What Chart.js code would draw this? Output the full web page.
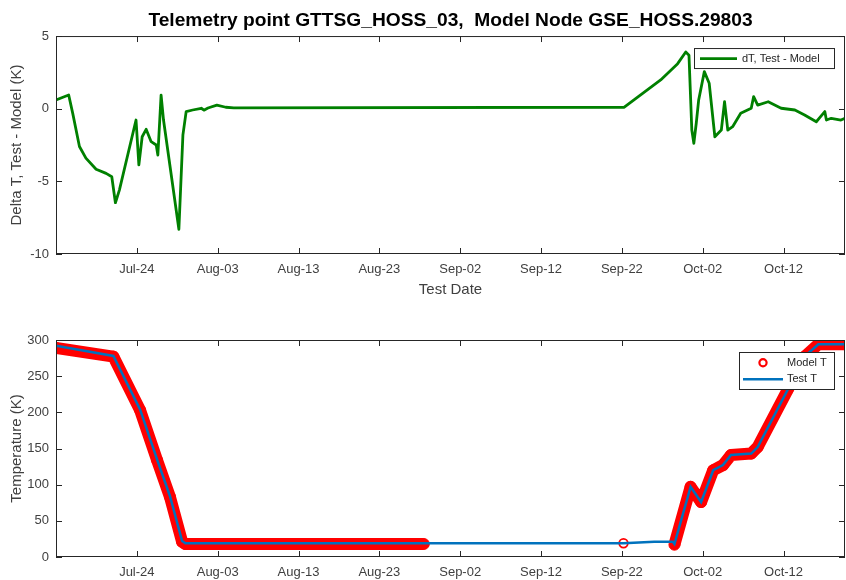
<!DOCTYPE html>
<html>
<head>
<meta charset="utf-8">
<script src="https://cdn.jsdelivr.net/npm/chart.js@4.4.1/dist/chart.umd.min.js"></script>
<style>
  html, body { margin: 0; padding: 0; background: #fff; }
  #wrap { position: relative; width: 846px; height: 580px; }
  #dtChart { position: absolute; left: 0; top: 0; }
  #tempChart { position: absolute; left: 0; top: 300px; }
</style>
</head>
<body>
<div id="wrap">
  <canvas id="dtChart" width="846" height="300"></canvas>
  <canvas id="tempChart" width="846" height="280"></canvas>
</div>
<script>
// x values are days counted from Jul-14
const tickDays = [10, 20, 30, 40, 50, 60, 70, 80, 90];
const tickLabels = ["Jul-24", "Aug-03", "Aug-13", "Aug-23", "Sep-02", "Sep-12", "Sep-22", "Oct-02", "Oct-12"];
const dayMin = 0;
const dayMax = 97.6;

// dT = test - model (K)
const dtDays = [0, 1.57, 2.07, 2.9, 3.7, 4.96, 6.2, 6.9, 7.35, 7.84, 9.9, 10.25, 10.66, 11.15, 11.77, 12.4, 12.6,
  13.0, 13.3, 15.2, 15.7, 16.1, 16.9, 17.97, 18.3, 18.8, 19.9, 21, 22, 70.3, 74.8, 76.9, 77.9, 78.3,
  78.65, 78.9, 79.2, 79.5, 80.2, 80.8, 81.5, 82.3, 82.7, 83.1, 83.7, 84.7, 86.0, 86.3, 86.8, 88.1,
  89.7, 91.4, 92.6, 94.05, 94.5, 95.1, 95.3, 95.9, 97.1, 97.6];
const dtValues = [0.6, 0.94, -0.32, -2.6, -3.4, -4.17, -4.45, -4.68, -6.47, -5.6, -0.78, -3.87, -1.93, -1.42, -2.27, -2.5, -3.19,
  0.94, -0.78, -8.3, -1.8, -0.2, -0.09, 0.03, -0.1, 0.05, 0.25, 0.1, 0.05, 0.1, 1.98, 3.1, 3.9, 3.68,
  -1.47, -2.38, -1.0, 0.6, 2.55, 1.75, -1.93, -1.47, 0.48, -1.47, -1.24, -0.32, 0.03, 0.83, 0.25, 0.48,
  0.03, -0.09, -0.43, -0.9, -0.6, -0.2, -0.78, -0.66, -0.78, -0.66];

// measured temperature (K)
const testDays = [0, 7.1, 10.4, 12.5, 14.1, 15.6, 16.0, 45.5, 70.2, 74.0, 76.3, 76.5, 78.5, 79.8,
  81.3, 82.5, 83.5, 86.0, 86.8, 90.5, 92.6, 94.3, 97.6];
const testTemps = [292, 278, 204, 135, 84, 22, 19, 19, 19, 21, 21, 18, 97, 76,
  120, 127, 141, 143, 152, 231, 277, 294, 294];

// model temperature (K); null = no model output for that span
const modelDays = [0, 7.1, 10.4, 12.5, 14.1, 15.6, 16.0, 45.5, 46, 70.2, 70.4, 76.5, 78.5, 79.8,
  81.3, 82.5, 83.5, 86.0, 86.8, 90.5, 92.6, 94.3, 97.6];
const modelTemps = [289, 277, 203, 134, 83, 21, 18, 18, null, 19, null, 17, 97, 76,
  120, 127, 141, 143, 152, 231, 277, 294, 294];

const axisColor = '#262626';
const tickColor = '#404040';
Chart.defaults.font.family = '"Liberation Sans", Arial, sans-serif';

function points(xs, ys) {
  return xs.map((x, i) => ({ x: x, y: ys[i] }));
}

// a model sample with no neighbours is drawn as a lone open circle
function isLone(i) {
  return modelTemps[i - 1] == null && modelTemps[i + 1] == null;
}

function dateAxis(height, title) {
  return {
    type: 'linear',
    min: dayMin,
    max: dayMax,
    grid: { display: false, drawTicks: false },
    border: { display: false },
    afterBuildTicks: s => { s.ticks = tickDays.map(v => ({ value: v })); },
    afterFit: s => { s.height = height; },
    ticks: {
      autoSkip: false, maxRotation: 0, padding: 8, color: tickColor, font: { size: 13 },
      callback: (v, i) => tickLabels[i]
    },
    title: title ? { display: true, text: title, color: tickColor, font: { size: 15 }, padding: { top: 0, bottom: 1 } }
                 : { display: false }
  };
}

function valueAxis(min, max, step, title) {
  return {
    min: min, max: max,
    grid: { display: false, drawTicks: false },
    border: { display: false },
    afterFit: s => { s.width = 56; },
    ticks: { stepSize: step, padding: 7, color: tickColor, font: { size: 13 } },
    title: { display: true, text: title, color: tickColor, font: { size: 15 }, padding: { top: 8, bottom: 0 } }
  };
}

// box around the plot with inward tick marks on all four sides
const axesBox = {
  id: 'axesBox',
  afterDatasetsDraw(chart) {
    const { ctx, chartArea: a, scales: { x, y } } = chart;
    ctx.save();
    ctx.strokeStyle = axisColor;
    ctx.lineWidth = 1;
    ctx.strokeRect(a.left + 0.5, a.top + 0.5, a.width - 1, a.height - 1);
    ctx.beginPath();
    x.ticks.forEach(t => {
      const px = Math.round(x.getPixelForValue(t.value)) + 0.5;
      ctx.moveTo(px, a.bottom); ctx.lineTo(px, a.bottom - 6);
      ctx.moveTo(px, a.top); ctx.lineTo(px, a.top + 6);
    });
    y.ticks.forEach(t => {
      const py = Math.round(y.getPixelForValue(t.value)) + 0.5;
      ctx.moveTo(a.left, py); ctx.lineTo(a.left + 6, py);
      ctx.moveTo(a.right, py); ctx.lineTo(a.right - 6, py);
    });
    ctx.stroke();
    ctx.restore();
  }
};

// legend box drawn inside the top-right corner of the plot
const boxLegend = {
  id: 'boxLegend',
  afterDraw(chart, args, o) {
    const { ctx, chartArea: a } = chart;
    const items = o.order.map(i => chart.data.datasets[i]);
    const h = o.rowHeight * items.length + o.pad * 2;
    const left = a.right - o.right - o.width;
    const top = a.top + o.top;
    ctx.save();
    ctx.fillStyle = '#fff';
    ctx.fillRect(left, top, o.width, h);
    ctx.strokeStyle = axisColor;
    ctx.lineWidth = 1;
    ctx.strokeRect(left + 0.5, top + 0.5, o.width - 1, h - 1);
    ctx.font = '11px "Liberation Sans", Arial, sans-serif';
    ctx.textBaseline = 'middle';
    items.forEach((ds, k) => {
      const cy = top + o.pad + o.rowHeight * (k + 0.5);
      ctx.strokeStyle = ds.legendColor;
      if (ds.legendMarker === 'circle') {
        ctx.lineWidth = 2.2;
        ctx.beginPath();
        ctx.arc(left + (o.sampleStart + o.sampleEnd) / 2, cy, 3.6, 0, Math.PI * 2);
        ctx.stroke();
      } else {
        ctx.lineWidth = ds.borderWidth;
        ctx.beginPath();
        ctx.moveTo(left + o.sampleStart, cy);
        ctx.lineTo(left + o.sampleEnd, cy);
        ctx.stroke();
      }
      ctx.fillStyle = axisColor;
      ctx.fillText(ds.label, left + o.textX, cy);
    });
    ctx.restore();
  }
};

new Chart(document.getElementById('dtChart'), {
  type: 'line',
  data: {
    datasets: [{
      label: 'dT, Test - Model',
      data: points(dtDays, dtValues),
      borderColor: '#008000',
      legendColor: '#008000',
      borderWidth: 2.8,
      pointRadius: 0,
      tension: 0,
      borderJoinStyle: 'round'
    }]
  },
  options: {
    responsive: false,
    animation: false,
    layout: { autoPadding: false, padding: { right: 1 } },
    scales: {
      x: dateAxis(46, 'Test Date'),
      y: valueAxis(-10, 5, 5, 'Delta T, Test - Model (K)')
    },
    plugins: {
      legend: { display: false },
      tooltip: { enabled: false },
      title: {
        display: true,
        fullSize: false,
        text: 'Telemetry point GTTSG_HOSS_03,  Model Node GSE_HOSS.29803',
        color: '#000',
        font: { size: 19.2, weight: 'bold' },
        padding: { top: 9.5, bottom: 3.5 }
      },
      boxLegend: { order: [0], width: 141, top: 12, right: 10, rowHeight: 21, pad: 0, sampleStart: 6, sampleEnd: 43, textX: 48 }
    }
  },
  plugins: [axesBox, boxLegend]
});

new Chart(document.getElementById('tempChart'), {
  type: 'line',
  data: {
    datasets: [{
      label: 'Test T',
      data: points(testDays, testTemps),
      borderColor: '#0072BD',
      legendColor: '#0072BD',
      borderWidth: 2.5,
      pointRadius: 0,
      tension: 0
    }, {
      label: 'Model T',
      legendMarker: 'circle',
      legendColor: '#FF0000',
      data: points(modelDays, modelTemps),
      borderColor: '#FF0000',
      borderWidth: 12,
      borderCapStyle: 'butt',
      borderJoinStyle: 'round',
      spanGaps: false,
      // dense circle markers form a thick band; the lone sample stays an open ring
      pointRadius: c => isLone(c.dataIndex) ? 4.3 : 5.5,
      pointBorderWidth: c => isLone(c.dataIndex) ? 1.8 : 1,
      pointBorderColor: '#FF0000',
      pointBackgroundColor: c => isLone(c.dataIndex) ? 'rgba(0,0,0,0)' : '#FF0000',
      tension: 0
    }]
  },
  options: {
    responsive: false,
    animation: false,
    layout: { autoPadding: false, padding: { top: 40, right: 1 } },
    scales: {
      x: dateAxis(23, null),
      y: valueAxis(0, 300, 50, 'Temperature (K)')
    },
    plugins: {
      legend: { display: false },
      tooltip: { enabled: false },
      boxLegend: { order: [1, 0], width: 96, top: 12, right: 10, rowHeight: 16.5, pad: 2.5, sampleStart: 4, sampleEnd: 44, textX: 48 }
    }
  },
  plugins: [axesBox, boxLegend]
});
</script>
</body>
</html>
